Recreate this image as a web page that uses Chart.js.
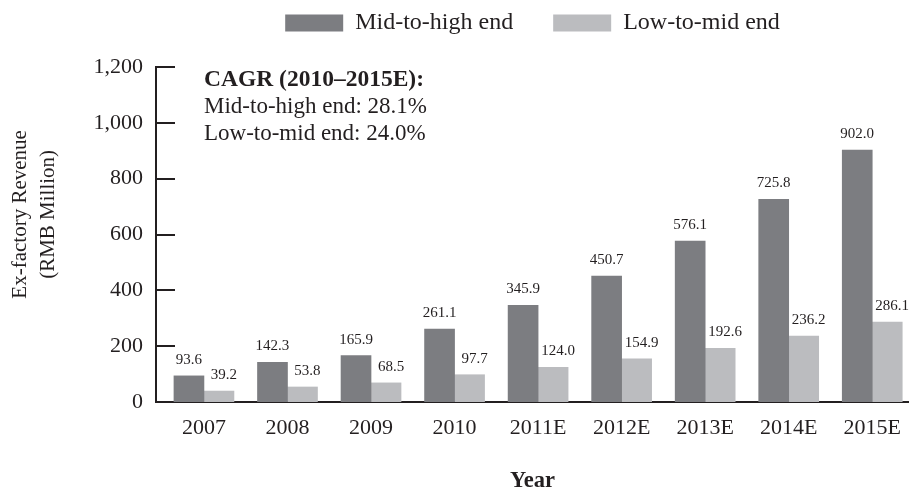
<!DOCTYPE html>
<html>
<head>
<meta charset="utf-8">
<script src="https://cdn.jsdelivr.net/npm/chart.js@4"></script>
<style>
	html, body { margin: 0; padding: 0; background: #ffffff; }
	#chartWrap { width: 909px; height: 490px; }
</style>
</head>
<body>
<div id="chartWrap"><canvas id="revenueChart"></canvas></div>
<script>
	//data
	var years = ["2007", "2008", "2009", "2010", "2011E", "2012E", "2013E", "2014E", "2015E"];
	var midToHigh = [93.6, 142.3, 165.9, 261.1, 345.9, 450.7, 576.1, 725.8, 902.0];
	var lowToMid = [39.2, 53.8, 68.5, 97.7, 124.0, 154.9, 192.6, 236.2, 286.1];
	var yTicks = [0, 200, 400, 600, 800, 1000, 1200];
	var cagrLines = ["CAGR (2010\u20132015E):", "Mid-to-high end: 28.1%", "Low-to-mid end: 24.0%"];
	var yTitleLines = ["Ex-factory Revenue", "(RMB Million)"];

	var inkColor = "#231f20";
	var darkGrey = "#7c7d81";
	var lightGrey = "#bbbcbf";
	var serif = "'Liberation Serif', 'Times New Roman', serif";

	function toPoints(values){
		return values.map(function (v, i) { return {x: i, y: v}; });
	}

	//value labels above each bar + the inside tick marks on the y axis + CAGR note + y title
	var extrasPlugin = {
		id: "extras",
		afterDatasetsDraw: function (chart) {
			var ctx = chart.ctx;
			ctx.save();
			ctx.fillStyle = inkColor;
			ctx.font = "15px " + serif;
			ctx.textAlign = "center";
			ctx.textBaseline = "middle";
			chart.data.datasets.forEach(function (ds, dsIndex) {
				var meta = chart.getDatasetMeta(dsIndex);
				meta.data.forEach(function (bar, i) {
					var shift = dsIndex === 1 ? 5 : 0;
					ctx.fillText(ds.data[i].y.toFixed(1), bar.x + shift, bar.y - 16);
				});
			});
			ctx.restore();
		},
		afterDraw: function (chart) {
			var ctx = chart.ctx;
			var area = chart.chartArea;
			var yScale = chart.scales.y;
			ctx.save();
			//tick marks point into the plot
			ctx.strokeStyle = inkColor;
			ctx.lineWidth = 2;
			yTicks.forEach(function (t) {
				if (t === 0) return;
				var py = Math.round(yScale.getPixelForValue(t));
				ctx.beginPath();
				ctx.moveTo(area.left, py);
				ctx.lineTo(area.left + 19, py);
				ctx.stroke();
			});
			//CAGR note
			ctx.fillStyle = inkColor;
			ctx.textAlign = "left";
			ctx.textBaseline = "middle";
			cagrLines.forEach(function (line, i) {
				ctx.font = (i === 0 ? "bold 23.5px " : "23px ") + serif;
				ctx.fillText(line, area.left + 48, area.top + 13 + i * 27);
			});
			//y axis title, sits a bit above the middle of the axis
			ctx.font = "21px " + serif;
			ctx.textAlign = "center";
			ctx.translate(yScale.left + 20, yScale.top + (yScale.bottom - yScale.top) * 0.44);
			ctx.rotate(-Math.PI / 2);
			yTitleLines.forEach(function (line, i) {
				ctx.fillText(line, 0, i * 28);
			});
			ctx.restore();
		}
	};

	var chartCtx = document.getElementById("revenueChart");
	var revenueChart = new Chart(chartCtx, {
		type: "bar",
		data: {
			datasets: [
				{
					label: "Mid-to-high end",
					data: toPoints(midToHigh),
					backgroundColor: darkGrey,
					borderWidth: 0,
					barThickness: 30
				},
				{
					label: "Low-to-mid end",
					data: toPoints(lowToMid),
					backgroundColor: lightGrey,
					borderWidth: 0,
					barThickness: 30
				}
			]
		},
		options: {
			responsive: true,
			maintainAspectRatio: false,
			animation: false,
			layout: {
				padding: {top: -29, left: 0, right: 0, bottom: 0}
			},
			plugins: {
				legend: {
					position: "top",
					fullSize: false,
					labels: {
						color: inkColor,
						font: {family: serif, size: 24},
						boxWidth: 58,
						boxHeight: 17,
						padding: 40
					}
				},
				//empty title used only as a gap between legend and plot
				title: {
					display: true,
					text: "",
					weight: 999,
					font: {size: 1, lineHeight: 1},
					padding: {top: 21, bottom: 0}
				},
				tooltip: {enabled: false}
			},
			scales: {
				x: {
					type: "linear",
					min: -0.574,
					max: 8.44,
					offset: false,
					grid: {display: false},
					border: {display: true, color: inkColor, width: 2},
					ticks: {
						color: inkColor,
						font: {family: serif, size: 22},
						padding: 5,
						autoSkip: false,
						maxRotation: 0,
						callback: function (value) { return years[value]; }
					},
					afterBuildTicks: function (scale) {
						scale.ticks = years.map(function (y, i) { return {value: i}; });
					},
					afterFit: function (scale) { scale.height = 88; },
					title: {
						display: true,
						text: "Year",
						color: inkColor,
						font: {family: serif, size: 22.5, weight: "bold", lineHeight: 1},
						padding: {top: 0, bottom: -2.5}
					}
				},
				y: {
					min: 0,
					max: 1200,
					grid: {display: false},
					border: {display: true, color: inkColor, width: 2},
					ticks: {
						color: inkColor,
						font: {family: serif, size: 22},
						padding: 5,
						stepSize: 200,
						callback: function (value) { return value.toLocaleString("en-US"); }
					},
					afterBuildTicks: function (scale) {
						scale.ticks = yTicks.map(function (t) { return {value: t}; });
					},
					afterFit: function (scale) { scale.width = 156; }
				}
			}
		},
		plugins: [extrasPlugin]
	});
</script>
</body>
</html>
